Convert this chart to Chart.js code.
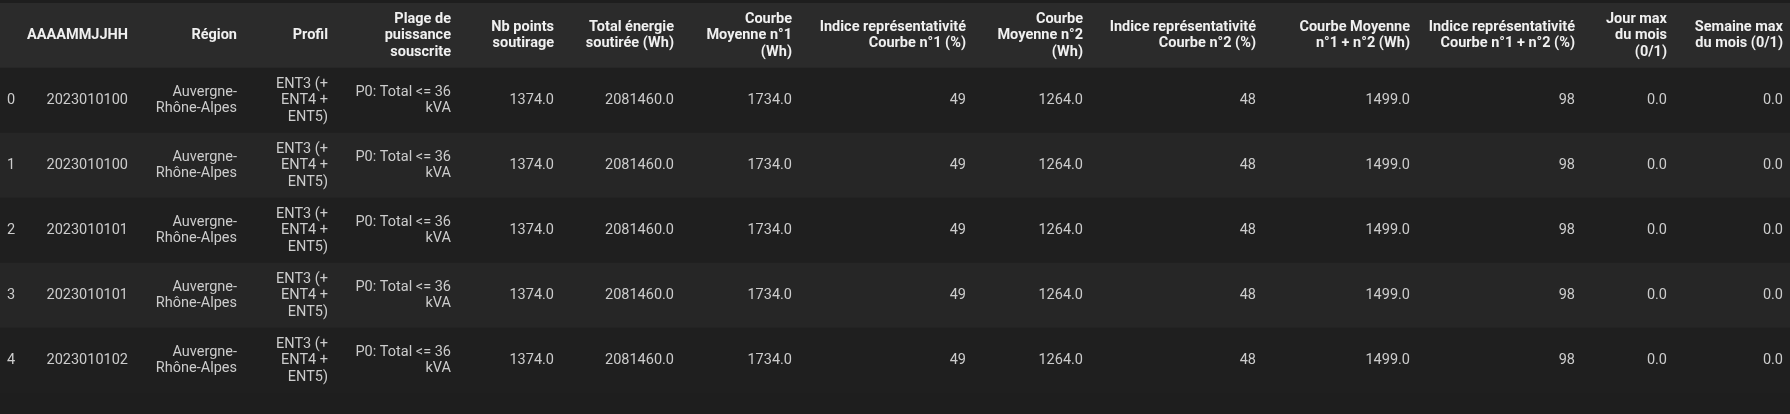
<!DOCTYPE html>
<html><head><meta charset="utf-8">
<script src="https://cdn.jsdelivr.net/npm/chart.js@4"></script>
<style>html,body{margin:0;background:#1e1e1e;}#wrap{width:1790px;height:414px;}</style>
</head><body><div id="wrap"><canvas id="tbl"></canvas></div>
<script>
// table values
const rowIndex = ['0', '1', '2', '3', '4'];
const dates = ['2023010100', '2023010100', '2023010101', '2023010101', '2023010102'];
const regions = ['Auvergne-Rhône-Alpes', 'Auvergne-Rhône-Alpes', 'Auvergne-Rhône-Alpes', 'Auvergne-Rhône-Alpes', 'Auvergne-Rhône-Alpes'];
const profils = ['ENT3 (+ ENT4 + ENT5)', 'ENT3 (+ ENT4 + ENT5)', 'ENT3 (+ ENT4 + ENT5)', 'ENT3 (+ ENT4 + ENT5)', 'ENT3 (+ ENT4 + ENT5)'];
const plages = ['P0: Total <= 36 kVA', 'P0: Total <= 36 kVA', 'P0: Total <= 36 kVA', 'P0: Total <= 36 kVA', 'P0: Total <= 36 kVA'];
const nbPoints = [1374.0, 1374.0, 1374.0, 1374.0, 1374.0];
const totalEnergie = [2081460.0, 2081460.0, 2081460.0, 2081460.0, 2081460.0];
const courbe1 = [1734.0, 1734.0, 1734.0, 1734.0, 1734.0];
const indice1 = [49, 49, 49, 49, 49];
const courbe2 = [1264.0, 1264.0, 1264.0, 1264.0, 1264.0];
const indice2 = [48, 48, 48, 48, 48];
const courbe12 = [1499.0, 1499.0, 1499.0, 1499.0, 1499.0];
const indice12 = [98, 98, 98, 98, 98];
const jourMax = [0.0, 0.0, 0.0, 0.0, 0.0];
const semaineMax = [0.0, 0.0, 0.0, 0.0, 0.0];

const headers = [
  [''], ['AAAAMMJJHH'], ['Région'], ['Profil'], ['Plage de', 'puissance', 'souscrite'],
  ['Nb points', 'soutirage'], ['Total énergie', 'soutirée (Wh)'], ['Courbe', 'Moyenne n°1', '(Wh)'],
  ['Indice représentativité', 'Courbe n°1 (%)'], ['Courbe', 'Moyenne n°2', '(Wh)'],
  ['Indice représentativité', 'Courbe n°2 (%)'], ['Courbe Moyenne', 'n°1 + n°2 (Wh)'],
  ['Indice représentativité', 'Courbe n°1 + n°2 (%)'], ['Jour max', 'du mois', '(0/1)'],
  ['Semaine max', 'du mois (0/1)']
];

// wrapping of the long text cells, as in the picture
const wrap = {
  'Auvergne-Rhône-Alpes': ['Auvergne-', 'Rhône-Alpes'],
  'ENT3 (+ ENT4 + ENT5)': ['ENT3 (+', 'ENT4 +', 'ENT5)'],
  'P0: Total <= 36 kVA': ['P0: Total <= 36', 'kVA']
};
const f1 = v => v.toFixed(1);
const columns = [rowIndex, dates, regions, profils, plages, nbPoints.map(f1), totalEnergie.map(f1),
  courbe1.map(f1), indice1.map(String), courbe2.map(f1), indice2.map(String), courbe12.map(f1),
  indice12.map(String), jourMax.map(f1), semaineMax.map(f1)];

// right edge of each column on the x scale (index column is left aligned)
const colRight = [7, 128, 237, 328, 451, 554, 674, 792, 966, 1083, 1256, 1410, 1575, 1667, 1783];
const rowLabels = ['header'].concat(rowIndex);
const rowColors = ['#2b2b2b', '#1f1f1f', '#262626', '#1f1f1f', '#262626', '#1f1f1f'];

const textPlugin = {
  id: 'cells',
  afterDatasetsDraw(chart) {
    const ctx = chart.ctx, xs = chart.scales.x, ys = chart.scales.y;
    const lh = 16.5;
    ctx.save();
    ctx.textBaseline = 'middle';
    rowLabels.forEach((r, ri) => {
      const yc = ys.getPixelForValue(ri);
      columns.forEach((col, ci) => {
        let lines;
        if (ri === 0) lines = headers[ci];
        else { const v = col[ri - 1]; lines = wrap[v] || [v]; }
        ctx.font = (ri === 0 ? 'bold ' : '') + '14.5px Roboto, "Noto Sans", sans-serif';
        ctx.fillStyle = ri === 0 ? '#f0f0f0' : '#cccccc';
        ctx.textAlign = ci === 0 ? 'left' : 'right';
        const x = xs.getPixelForValue(colRight[ci]);
        const y0 = yc - (lines.length - 1) * lh / 2;
        lines.forEach((t, li) => ctx.fillText(t, x, y0 + li * lh));
      });
    });
    ctx.restore();
  }
};

new Chart(document.getElementById('tbl'), {
  type: 'bar',
  data: {
    labels: rowLabels,
    datasets: [{
      data: rowLabels.map(() => [0, 1790]),
      backgroundColor: rowColors,
      barPercentage: 1,
      categoryPercentage: 1,
      borderWidth: 0
    }]
  },
  options: {
    indexAxis: 'y',
    responsive: true,
    maintainAspectRatio: false,
    animation: false,
    layout: { padding: { top: 3, bottom: 21, left: 0, right: 0 } },
    scales: {
      x: { type: 'linear', min: 0, max: 1790, display: false },
      y: { display: false }
    },
    plugins: { legend: { display: false }, tooltip: { enabled: false } }
  },
  plugins: [textPlugin]
});
</script>
</body></html>
